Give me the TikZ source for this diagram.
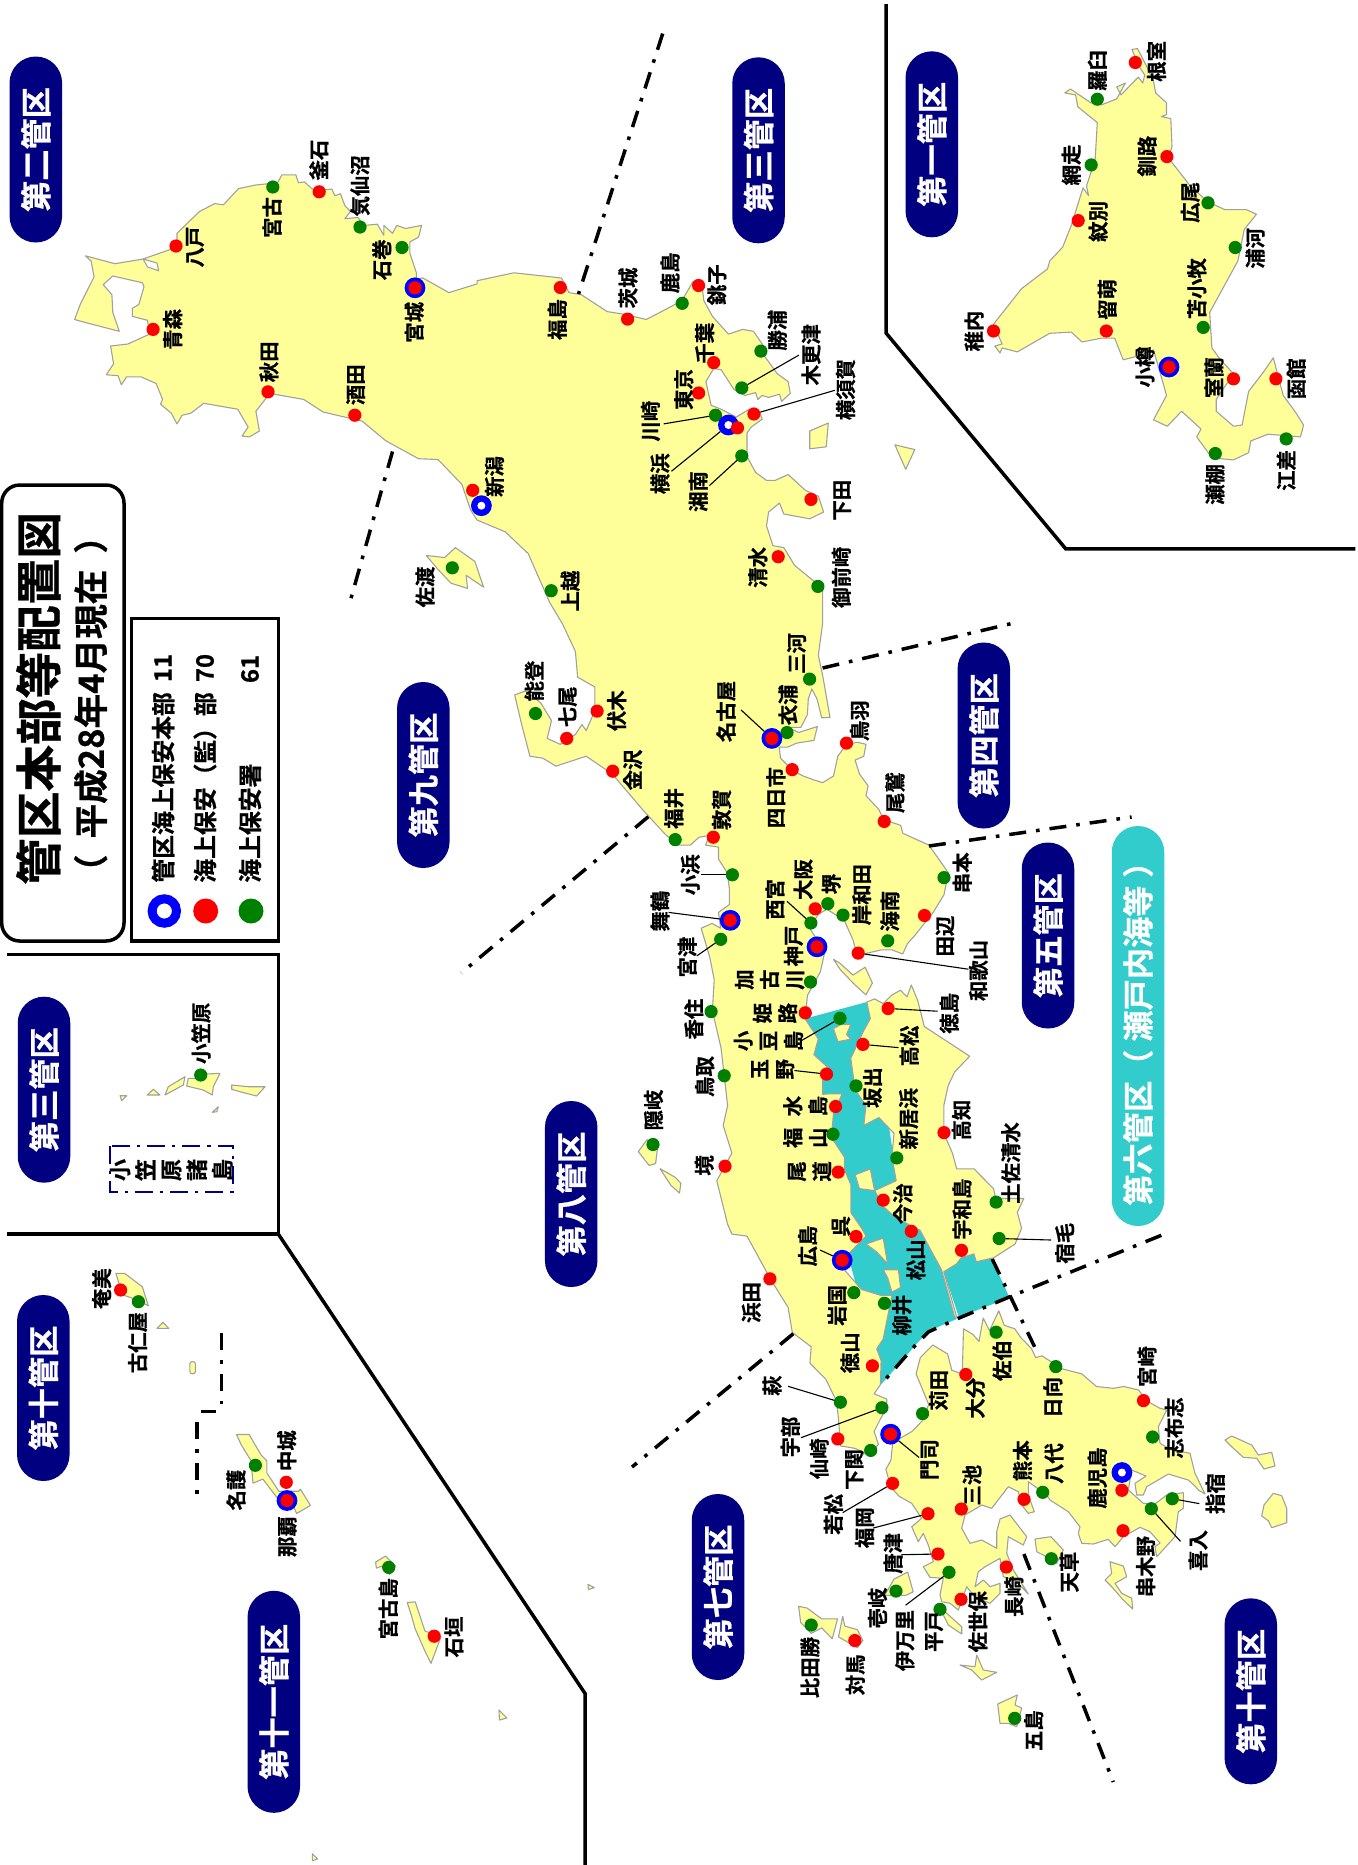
\documentclass[tikz,border=0pt]{standalone}
\usepackage{fontspec}
\newfontfamily\cjf{Noto Sans CJK JP}[BoldFont={Noto Sans CJK JP Bold},BoldFeatures={FakeBold=0.7}]
\definecolor{landc}{HTML}{FFFF99}
\definecolor{coast}{HTML}{A0A0A0}
\definecolor{seac}{HTML}{33CCCC}
\definecolor{navyc}{HTML}{000080}
\definecolor{greenc}{HTML}{008000}
\tikzset{
 land/.style={fill=landc,draw=coast,line width=.55pt,line join=round},
 hole/.style={fill=white,draw=coast,line width=.55pt,line join=round},
 sea/.style={fill=seac,draw=none},
 rd/.style={circle,fill=red,inner sep=0pt,outer sep=0pt,minimum size=6.6pt},
 gd/.style={circle,fill=greenc,inner sep=0pt,outer sep=0pt,minimum size=6.6pt},
 bd/.style={circle,fill=blue,inner sep=0pt,outer sep=0pt,minimum size=10.4pt},
 wd/.style={circle,fill=white,inner sep=0pt,outer sep=0pt,minimum size=4pt},
 lab/.style={rotate=90,inner sep=0pt,align=center,font=\cjf\bfseries\fontsize{10.2}{12.6}\selectfont},
 leader/.style={draw=black,line width=.55pt},
 border/.style={draw=black,line width=1.75pt,line join=miter},
 dashb/.style={draw=black,line width=1.75pt,dash pattern=on 8.5pt off 5pt on 1.8pt off 5pt},
 pill/.style={rotate=90,inner sep=0pt,rounded corners=13.1pt,text=white,font=\cjf\bfseries\fontsize{15.6}{18}\selectfont},
}
\newcommand{\RD}[3]{\node[rd] (#1) at (#2,#3) {};}
\newcommand{\GD}[3]{\node[gd] (#1) at (#2,#3) {};}
\newcommand{\RN}[3]{\node[bd] (#1) at (#2,#3) {};\node[rd] (#1r) at (#2,#3) {};}
\newcommand{\RH}[3]{\node[bd] (#1) at (#2,#3) {};\node[wd] (#1w) at (#2,#3) {};}
\newcommand{\LB}[4]{\node[lab] (#1) at (#2,#3) {#4};}
\newcommand{\LD}[3]{\coordinate (#1e) at (#2,#3);\draw[leader] (#1) -- (#1e);}
\newcommand{\PL}[7]{\node[pill,fill=#7,minimum width=#4*0.5pt,minimum height=#5*0.5pt] (#1) at (#2,#3) {#6};}
\begin{document}
\begin{tikzpicture}[x=0.5pt,y=-0.5pt]
\path[use as bounding box,fill=white] (0,0) rectangle (1358,1865);
% inland sea
\fill[sea] plot coordinates {(805.4,1018.6)(866.8,1002)(880,1050)(885,1100)(900,1200)(935,1250)(950.3,1300)(956.7,1319)(928.6,1331)(915.7,1344.8)(900.5,1362.6)(881.1,1384.4)(860,1300)(820,1150)} -- cycle;
\fill[sea] plot coordinates {(943.8,1271.7)(956.7,1263.8)(961,1257.8)(974,1253.9)(976.2,1261.8)(991.3,1257.8)(1009.5,1297.4)(1000,1301.3)(958.9,1317.1)} -- cycle;
% Honshu
\draw[land] plot coordinates {(85.4,255.8)(114.9,263.7)(143.1,259)(171.3,249.1)(177,246)(177,233.3)(199.5,211.5)(214.7,203.6)(223.4,204.8)(238.5,188.6)(255.9,185)(277.6,182.7)(281.9,174.8)(295.8,174.8)(298.4,182.7)(304.5,181.9)(312.3,189)(325.3,189.8)(331.8,189)(334.8,195.7)(340.5,193.7)(344.8,205.6)(350.4,211.5)(344.8,218.7)(357.8,217.5)(364.3,225.4)(377.3,224.2)(383.8,235.3)(383.8,225.4)(392.5,233.3)(396.8,225.4)(405.5,228.5)(421.6,225.4)(418.5,237.2)(409.8,242)(409.8,253)(416.4,272.8)(416.4,278.8)(422.9,278)(448.9,292.6)(477.1,283.9)(477.1,280.7)(513.9,272.8)(561.6,278)(569,292.6)(581.2,294.6)(607.2,311.6)(624.5,314.3)(646.2,319.5)(661.4,311.6)(678.7,302.5)(684.3,296.6)(693,281.5)(701.6,281.5)(703.8,300.5)(712.4,316.3)(728.4,334.1)(742.7,329.4)(753.5,331.3)(762.2,344)(764.3,355.9)(777.3,373.7)(788.1,381.6)(790.3,393.4)(781.6,401.3)(779.5,394.2)(768.6,397.4)(762.2,395.4)(757.8,399.4)(755.7,392.6)(744.9,395.4)(734,389.5)(721.1,369.7)(713.7,368.5)(705.9,381.6)(711.1,405.3)(721.1,409.2)(736.2,417.1)(749.2,409.2)(760,413.2)(762.2,419.1)(751.3,427)(747,433)(747,456.7)(755.7,472.5)(766.5,480.4)(775.1,480.4)(788.1,474.5)(805.4,490.3)(818.4,496.2)(823.6,512)(809.7,518.8)(783.8,514)(779.5,503)(768.6,512)(766.5,525.9)(773,545.7)(783.8,547.6)(794.6,565.4)(814,581.2)(822.7,589.1)(822.6,623.7)(818.3,655.4)(822.6,675.1)(830,717.4)(821.7,717.8)(817,698.9)(811.8,689)(808.3,698.9)(807.4,714.7)(800.9,727.3)(787.9,727.3)(798.7,732.5)(817.4,726.5)(813.9,740.4)(796.6,743.1)(787.9,747.1)(779.2,747.1)(780.5,758.2)(792.2,770)(803.1,776)(813.9,779.9)(822.6,782.7)(833.5,776)(837.8,756.2)(846.5,744.3)(857.3,742.3)(866,744.3)(863.8,756.2)(855.1,760.1)(859.5,774)(868.1,785.8)(866,795.7)(879,809.6)(883.3,819.4)(900.7,825.4)(902.8,833.3)(928.9,845.1)(948.4,872.8)(944,894.6)(933.2,912.4)(915.9,934.1)(907.2,944)(902.8,953.9)(892,949.9)(881.2,949.9)(863.8,953.9)(857.3,955.9)(853,940)(844.3,920.3)(826.9,909.2)(818.3,914.3)(809.6,928.2)(816.1,938.1)(825.6,948)(820.4,971.7)(807.4,995.4)(805.3,1019.1)(818.3,1038.9)(813.9,1054.7)(826.9,1066.6)(822.6,1080.4)(822.6,1094.3)(831.3,1093.7)(842.2,1093.7)(833.5,1113.5)(831.3,1137.2)(844.3,1157)(844.3,1168.9)(850.8,1184.7)(850.8,1212.4)(861.6,1228.2)(865.9,1236.1)(846.5,1255.9)(844.3,1269.7)(861.6,1289.5)(881.1,1295.4)(891.9,1295.4)(883.2,1338.9)(876.7,1348.8)(881.1,1360.6)(880.4,1384.7)(874.1,1393.7)(886.7,1399.1)(886.7,1408.1)(880.4,1418.9)(874.1,1431.5)(878.3,1444.1)(869.9,1455.6)(855.3,1448.4)(840.6,1445.9)(838.5,1418.9)(836.4,1400.9)(825.9,1379.3)(809.9,1363.1)(811.2,1346.8)(792.3,1332.4)(788.1,1307.3)(770.8,1279.6)(747,1236.1)(731.9,1234.1)(727.6,1224.2)(716.8,1180.7)(731.9,1153.1)(723.2,1125.4)(727.6,1105.6)(721.1,1048.3)(712.4,1010.7)(714.2,979.6)(709.9,957.8)(701.2,928.2)(712,923.4)(720.7,928.2)(718.5,912.4)(729.4,904.5)(729.4,888.6)(727.2,872.8)(718.5,859)(718.5,847.1)(705.5,845.1)(709.8,835.3)(699,837.2)(690.3,845.1)(677.3,845.1)(664.3,833.3)(642.6,809.6)(612.3,774)(586.2,756.2)(555.9,766.1)(542.9,758.2)(529.9,756.2)(521.2,722.6)(514.7,694.9)(525.5,690.9)(540.7,702.8)(551.5,720.6)(547.2,738.4)(560.2,744.3)(575.4,734.4)(581.9,724.6)(586.2,730.5)(594.9,710.7)(594.9,687)(577.6,677.1)(575.4,651.4)(562.4,623.7)(549.4,602)(547.3,597)(528.2,553.6)(505.2,531.8)(477,520)(470.6,510)(461.9,484.4)(438,459.5)(418.5,458.7)(386,440.9)(362.1,421.1)(323.1,412)(303.6,399.4)(274.1,394.2)(266.7,397.4)(255.9,411.2)(259.4,431)(249.4,436.9)(242,436.1)(248.1,427)(237.7,409.2)(203.8,403.3)(190.8,413.2)(182.2,415.2)(177,423.9)(171.3,413.2)(160.5,404.1)(162.6,399.4)(156.1,383.5)(141,376.8)(126.6,376.8)(121.4,384.7)(118,375.6)(106.3,374.8)(113.6,363.8)(110.6,346)(127.9,344)(149.6,334.1)(147.5,320.3)(132.3,316.3)(132.3,308.4)(138.8,304.5)(144,286.7)(142.3,282.7)(112.8,276)(103.2,284.7)(111.9,294.6)(112.8,312.4)(119.3,331.3)(84.6,322.3)(74.6,319.5)(80.2,304.5)(94.1,276.8)(91.1,261)} -- cycle;
\draw[hole] plot coordinates {(143.1,259)(157,263)(158.7,270.8)(147.5,266.9)} -- cycle;
% Shikoku
\draw[land] plot coordinates {(866.8,1002)(874.6,998.9)(883.2,1003.6)(891.9,994.9)(900.5,990.2)(907,996.9)(911.3,985)(917.8,1000.8)(924.3,1026.5)(939.4,1036.4)(969.7,1056.2)(954.6,1072)(948.1,1085.8)(943.8,1105.6)(943.8,1133.3)(952.4,1153.1)(956.7,1168.9)(974,1168.9)(993.5,1188.6)(995.7,1198.5)(1023.8,1198.5)(1017.3,1212.4)(1021.6,1228.2)(1015.1,1244)(993.5,1257.8)(976.2,1261.8)(974,1253.9)(961,1257.8)(956.7,1263.8)(943.8,1271.7)(956.7,1317.1)(954.6,1317)(941.5,1269.7)(920,1230.2)(896.2,1218.3)(883.2,1206.4)(874.6,1190.6)(896.2,1180.7)(891.9,1157)(894,1133.3)(878.9,1117.5)(863.8,1125.4)(865.9,1105.6)(855.1,1089.8)(850.8,1058.2)(863.8,1030.5)(870.3,1018.6)} -- cycle;
% Kyushu
\draw[land] plot coordinates {(893,1442.3)(911.9,1431.5)(922.4,1420.7)(928.7,1404.5)(916.1,1373.9)(920.3,1357.6)(932.9,1345)(947.6,1354)(951.8,1370.3)(962.3,1373.9)(963.5,1328.8)(972.7,1334.2)(979,1341.4)(983.2,1318)(989.5,1330.6)(998.8,1310.8)(1004.2,1325.2)(1014.7,1328.8)(1021,1337.8)(1031.5,1348.6)(1035.7,1357.6)(1042,1355.8)(1050.4,1361.3)(1060.9,1368.5)(1081.8,1373.9)(1096.5,1386.5)(1113.3,1388.3)(1123.8,1386.5)(1138.5,1390)(1146.9,1400.9)(1159.5,1408.1)(1166.7,1410)(1158.3,1426.7)(1160,1443.3)(1171.7,1450)(1190,1453.3)(1195,1473.3)(1205,1494)(1198.3,1490)(1195,1486)(1188.3,1480)(1168.3,1474)(1146.7,1486.7)(1143.3,1495)(1136.7,1495)(1135,1483.3)(1146,1476)(1131.7,1470)(1128.3,1490)(1143.3,1503.3)(1155,1504)(1166.7,1495)(1183.3,1492.7)(1183.3,1508.3)(1178.3,1511.7)(1175,1536.7)(1156.7,1556.7)(1155,1546.7)(1160,1543)(1150,1531.7)(1140,1527.3)(1123.3,1536.7)(1115,1546.7)(1108.3,1539.3)(1093.3,1544)(1081.7,1543.3)(1078.3,1533.3)(1080,1526.7)(1068.3,1511.7)(1050,1500)(1046.7,1495)(1028.3,1481.7)(1028.3,1495)(1034.3,1511.7)(1028.3,1513.3)(1021.7,1505)(1018.3,1491.7)(1008.3,1486.7)(991.7,1508.3)(981.7,1505)(965,1515)(961.7,1528.3)(970,1543.3)(981.7,1540)(996.7,1548.3)(996.7,1531.7)(1000,1519)(1010,1515)(1026.7,1536.7)(1023.3,1545)(1008.3,1536.7)(1006.7,1553.3)(1010,1561.7)(1013.3,1570)(1028.3,1594)(1015,1580)(1003.3,1576.7)(1000,1558.3)(985,1566.7)(978.3,1571.7)(975,1586.7)(983.3,1580)(990,1586.7)(1000,1583.3)(1000,1593.3)(990,1603.3)(975,1597)(966.7,1586.7)(958.3,1610)(950,1603.3)(941.7,1601.7)(940,1595)(943.3,1578.3)(930,1577.3)(923.3,1566.7)(933.3,1561.7)(928.3,1545)(923.3,1533.3)(918.3,1541.7)(911.7,1526.7)(921.7,1518.3)(911.7,1503.3)(899.3,1496.4)(890.9,1487.4)(885.9,1469.3)(890.9,1460.3)(892.2,1447.7)} -- cycle;
% Hokkaido
\draw[land] plot coordinates {(993.5,324.2)(1021.6,288.6)(1047.5,268.9)(1049.7,261)(1062.7,247.1)(1071.3,225.4)(1083,187.8)(1088.6,195.7)(1086.5,185.8)(1095.1,160.1)(1097.3,122.6)(1077.8,106.8)(1075.6,94.9)(1064.8,92.9)(1070.5,89)(1090.8,102.8)(1101.6,104.8)(1116.7,98.9)(1125.4,83)(1116.7,87)(1121,94.9)(1138.3,77.1)(1142.7,83)(1144.8,75.1)(1139.6,67.2)(1131.9,49.4)(1137.5,48.6)(1147,67.2)(1153.5,81.1)(1155.6,92.9)(1166.5,102.8)(1166.5,114.7)(1161.3,116.6)(1170.8,118.6)(1172,146.3)(1168.6,158.2)(1190.2,185.8)(1207.5,201.7)(1224.8,209.6)(1246.4,209.6)(1256.4,214.3)(1244.3,229.3)(1237.8,261)(1222.7,288.6)(1209.7,312.4)(1211.9,347.9)(1220.5,359.8)(1233.5,373.7)(1216.2,399.4)(1216.2,411.2)(1233.5,426.2)(1242.1,425)(1248.6,391.4)(1263.7,371.7)(1273.3,357.8)(1283.2,395.4)(1296.2,413.2)(1303.5,425)(1300.5,436.9)(1268.1,434.2)(1250.8,440.9)(1248.6,452.7)(1233.5,459.9)(1220.5,458.7)(1209.7,454.7)(1196.7,436.9)(1201,429)(1181.6,411.2)(1167.3,426.2)(1153.5,419.9)(1166.5,395.4)(1162.1,379.6)(1153.5,349.9)(1138.3,355.9)(1123.2,359.8)(1114.6,338.1)(1101.6,338.1)(1082.1,342)(1071.3,332.1)(1049.7,333.3)(1017.3,351.9)(1002.1,347.9)(1000,353)(994.8,346)(1002.1,344)} -- cycle;
% islands
\draw[land] plot coordinates {(809.7,431)(828.3,423)(826.2,446.8)(809.7,448.8)} -- cycle;
\draw[land] plot coordinates {(894.9,444.8)(914.8,449.6)(905.7,469.3)} -- cycle;
\draw[land] plot coordinates {(426.3,555.5)(444.6,557.5)(455.4,547.6)(474.9,561.5)(483.6,587.2)(466.2,575.3)(467.5,588.4)(451,583.2)(438,569.4)} -- cycle;
\draw[land] plot coordinates {(638.3,1151.6)(647,1139.7)(657.8,1145.6)(655.6,1163.5)(649.1,1165.4)} -- cycle;
\draw[land] plot coordinates {(660,1168.6)(675.2,1177.3)(680.8,1183.2)(679.5,1193.1)(670.8,1185.2)} -- cycle;
\draw[land] plot coordinates {(833.5,959.3)(840,963.3)(853,975.1)(865.1,967.2)(872.4,983)(865.9,994.9)(853,983)(840,969.2)} -- cycle;
\draw[land] plot coordinates {(840.9,1024.6)(850.8,1024.6)(846.5,1034.4)(850.8,1039.2)(837.8,1041.6)(833.5,1028.5)} -- cycle;
\draw[land] plot coordinates {(855.1,1174.8)(870.3,1168.9)(874.6,1190.6)(859.4,1188.6)} -- cycle;
\draw[land] plot coordinates {(865.9,1244)(883.2,1238.1)(887.6,1263.8)(876.7,1251.9)} -- cycle;
\draw[land] plot coordinates {(883.2,1269.7)(898.4,1269.7)(900.5,1287.5)(891.9,1292.2)(887.6,1277.6)} -- cycle;
\draw[land] plot coordinates {(945,1611.7)(961.7,1626.7)(961.7,1634)(948.3,1625)(943.3,1615)} -- cycle;
\draw[land] plot coordinates {(960,1665)(975,1666.7)(976.7,1655)(983.3,1670)(996.7,1672.3)(981.7,1680)(971.7,1670)} -- cycle;
\draw[land] plot coordinates {(997.7,1704)(1017.3,1695)(1015,1705)(1021.7,1708)(1016.7,1726.7)(1008.3,1723.3)(1000,1723.3)} -- cycle;
\draw[land] plot coordinates {(1035,1539)(1051,1536.7)(1063.3,1550)(1056.7,1563.3)(1043.3,1555)(1036.7,1551.7)} -- cycle;
\draw[land] plot coordinates {(1110,1561.7)(1123.3,1566)(1126.7,1576.7)(1115,1583.3)(1121.7,1593.3)(1131.7,1598.3)(1132.7,1609)(1123.3,1600)(1111.7,1586.7)(1105,1580)(1111.7,1573.3)} -- cycle;
\draw[land] plot coordinates {(893.9,1579.2)(907.7,1572)(913.2,1591.8)(905.6,1595.4)(884.6,1595.4)(890.9,1584.6)} -- cycle;
\draw[land] plot coordinates {(798.6,1606.3)(807,1608)(821.7,1618.9)(837.6,1618.9)(832.2,1638.7)(821.7,1627.9)(811.2,1633.3)(800.7,1622.5)} -- cycle;
\draw[land] plot coordinates {(842.7,1616.3)(844.8,1626.1)(857.4,1629.7)(862.8,1640.5)(857.4,1647.7)(838.5,1636.9)} -- cycle;
\draw[land] plot coordinates {(1225,1440)(1231.7,1436)(1251.7,1445)(1258.3,1455)(1271.7,1452.3)(1275,1466)(1264,1469)(1256.7,1458.3)(1243.3,1457.3)(1231.7,1446.7)} -- cycle;
\draw[land] plot coordinates {(1273.3,1493.3)(1281.7,1495.7)(1286.7,1508.3)(1286.7,1522.7)(1271.7,1527.7)(1268.3,1520.7)(1261.7,1516)(1264,1505)} -- cycle;
\draw[land] plot coordinates {(115.9,1273.3)(124.6,1273.3)(142.3,1286.7)(148.3,1305.7)(134.4,1298.9)(122.6,1294.8)} -- cycle;
\draw[land] plot coordinates {(157,1328.4)(162.9,1322.3)(168.8,1328.4)} -- cycle;
\draw[land,rounded corners=1.2pt] (189.8,1361.6) rectangle (195.4,1373.8);
\draw[land] plot coordinates {(236.5,1434.5)(249.1,1434.5)(261,1454.8)(266.9,1460.9)(266.9,1473)(278.8,1491.2)(298.5,1491.2)(300.5,1489.2)(310.4,1505.4)(296.6,1513.5)(290.6,1499.3)(276.8,1497.3)(262.9,1479.1)(253,1483.1)(251.1,1460.9)(241.2,1444.7)} -- cycle;
\draw[land] plot coordinates {(375.6,1562.1)(385.5,1556)(395.4,1566.1)(389.5,1574.3)(381.6,1566.1)(376.4,1568.2)} -- cycle;
\draw[land] plot coordinates {(407.3,1602.6)(415.2,1601.8)(425,1631)(440.9,1637)(431,1663.3)(425,1651.2)(415.2,1628.9)(411.2,1614.8)} -- cycle;
\draw[land] plot coordinates {(588,1584.4)(594.3,1587.6)(588.4,1589.6)} -- cycle;
\draw[land] plot coordinates {(499,1710)(506.9,1718)(499.4,1720)} -- cycle;
\draw[land] plot coordinates {(312.4,1853.7)(317.5,1859)(312.4,1860.6)} -- cycle;
\draw[land] plot coordinates {(188.3,1078.3)(196.7,1078.3)(206.7,1074)(220,1073.3)(213.3,1086.7)(212.3,1095)(203.3,1090)(186.7,1086)} -- cycle;
\draw[land] plot coordinates {(185,1076.7)(183.3,1085)(165,1095)(168.3,1086.7)} -- cycle;
\draw[land] plot coordinates {(147.3,1095)(153.3,1089.3)(160,1095)} -- cycle;
\draw[land] plot coordinates {(120,1095.7)(126.7,1095.7)(121.7,1100.7)} -- cycle;
\draw[land] plot coordinates {(231.7,1085)(248.3,1086.7)(265,1086.7)(256.7,1096)(240,1091.7)(231.7,1089.3)} -- cycle;
\draw[land] plot coordinates {(218.3,1106.7)(216.7,1111.7)(212.3,1112.3)} -- cycle;
% borders
\draw[border] (886,4) -- (886,333) -- (1065.7,548.8) -- (1355.4,548.8);
\draw[border] (7,954.3) -- (278.3,954.3) -- (278.3,1234) -- (7,1234);
\draw[border] (278.3,1234) -- (585.2,1693.7) -- (585.2,1865);
\draw[dashb] (662.7,33.6) -- (578.5,294);
\draw[dashb] (392.5,451.5) -- (349.1,605);
\draw[dashb] (822.6,668) -- (1018,622);
\draw[dashb] (928.9,846) -- (1131.6,817);
\draw[dashb] (648.3,816.7) -- (461.3,972.9);
\draw[dashb] (992.2,1259) -- (1010.8,1297.4) -- (1034.6,1346.8);
\draw[dashb] (1161.3,1235.3) -- (1013,1295.4) -- (956.7,1319) -- (928.6,1331.8) -- (915.7,1344.8) -- (881,1384.4);
\draw[dashb] (793.3,1333.7) -- (632,1467);
\draw[dashb] (1023.9,1554) -- (1113.3,1782);
\draw[dashb] (221.4,1333.3) -- (221.4,1404);
\draw[dashb] (215.5,1411.4) -- (200.9,1411.4);
\draw[dashb] (196.9,1422.4) -- (196.9,1495.3);
% title and legend
\draw[draw=black,line width=1.75pt,rounded corners=9pt] (1.7,485) rectangle (124,941);
\node[rotate=90,inner sep=0pt,font=\cjf\bfseries\fontsize{23.3}{26}\selectfont] (title) at (38.3,698.4) {管区本部等配置図};
\node[rotate=90,inner sep=0pt,font=\cjf\bfseries\fontsize{17.3}{20}\selectfont] (subtitle) at (90.7,704) {（\kern8pt 平成28年4月現在\kern8pt ）};
\draw[border] (131.7,618.3) rectangle (278.3,941);
\node[circle,draw=blue,line width=4.5pt,fill=white,inner sep=0pt,outer sep=0pt,minimum size=12.2pt] (lgA) at (164.3,911) {};
\node[circle,fill=red,inner sep=0pt,minimum size=12.5pt] (lgB) at (205.7,911) {};
\node[circle,fill=greenc,inner sep=0pt,minimum size=12.5pt] (lgC) at (251,911) {};
\tikzset{lgt/.style={rotate=90,inner sep=0pt,font=\cjf\bfseries\fontsize{11.9}{14}\selectfont}}
\node[lgt,anchor=west] (ltA) at (163,883) {管区海上保安本部};
\node[lgt,anchor=west] (ltB) at (205,883) {海上保安（監）部};
\node[lgt,anchor=west] (ltC) at (250,883) {海上保安署};
\node[lgt] (nA) at (163,668) {11};
\node[lgt] (nB) at (205,668) {70};
\node[lgt] (nC) at (250,669) {61};
% pills
\PL{p2}{35.8}{149.5}{186}{52.5}{第二管区}{navyc}
\PL{p3}{758.5}{150.3}{186}{52.5}{第三管区}{navyc}
\PL{p1}{931.8}{144.3}{186}{52.5}{第一管区}{navyc}
\PL{p9}{423.3}{775}{186}{52.5}{第九管区}{navyc}
\PL{p4}{983.8}{735.5}{186}{52.5}{第四管区}{navyc}
\PL{p8}{571.2}{1194}{186}{52.5}{第八管区}{navyc}
\PL{p5}{1048}{935.5}{186}{52.5}{第五管区}{navyc}
\PL{p6}{1138}{1026}{400}{52.5}{第六管区（\kern4pt 瀬戸内海等\kern4pt ）}{seac}
\PL{p7}{718}{1587}{186}{52.5}{第七管区}{navyc}
\PL{p10}{1250.8}{1691.3}{186}{52.5}{第十管区}{navyc}
\PL{p3b}{44}{1089.7}{186}{52.5}{第三管区}{navyc}
\PL{p10b}{43.3}{1388}{186}{52.5}{第十管区}{navyc}
\PL{p11}{273.8}{1701.8}{222}{52.5}{第十一管区}{navyc}
\draw[draw=navyc,line width=1pt,dash pattern=on 9pt off 3.5pt on 1.6pt off 3.5pt] (110,1146) rectangle (232.7,1191.7);
\node[lab,font=\cjf\bfseries\fontsize{11}{12.8}\selectfont] (ogn) at (171.3,1170) {小\\笠\\原\\諸\\島};
% dots
\GD{dMiyako}{272.8}{187}\RD{dKamaishi}{319.2}{191.8}\GD{dKesen}{360}{227}\GD{dIshino}{402}{247.5}\RN{dMiyagi}{415}{287.8}\RD{dHachi}{176}{246}\RD{dAomori}{153.1}{329.4}\RD{dAkita}{268}{391.8}\RD{dSakata}{354.8}{415.2}\RD{dFuku}{560.3}{287.5}\RD{dIbaraki}{627.6}{319.1}\RD{dNiigata}{472.7}{490.3}\RH{dNiiR}{481.4}{505.7}\GD{dSado}{452.3}{567.8}\GD{dJoetsu}{551.2}{590.7}
\GD{dKashima}{682.2}{303.3}\RD{dChoshi}{698.6}{285.5}\GD{dKatsu}{760.9}{351.1}\RD{dChiba}{713.7}{362.6}\GD{dKisa}{741.8}{387.9}\RD{dTokyo}{698.6}{393}\GD{dKawa}{715.5}{415.2}\RH{dYoko}{728.4}{425}\RD{dYokoR}{737.5}{427.8}\RD{dYosu}{753.9}{414}\GD{dShonan}{741.8}{455.9}\RD{dShimoda}{811}{499.4}\RD{dShimizu}{778.2}{556.7}\GD{dOmae}{817.9}{586.4}
\GD{dRausu}{1097.3}{99.2}\RD{dNemuro}{1135.3}{62.5}\GD{dAbashiri}{1091.2}{164.9}\RD{dKushiro}{1166.9}{156.6}\RD{dMonbetsu}{1078.2}{220.6}\GD{dHiroo}{1208}{202.8}\GD{dUrakawa}{1235.2}{247.5}\RD{dRumoi}{1106.3}{331}\RD{dWakka}{993.5}{331}\GD{dToma}{1203.2}{327.4}\RN{dOtaru}{1169}{367}\RD{dMuroran}{1233.5}{378.8}\RD{dHakodate}{1275.9}{378.8}\GD{dSetana}{1215.3}{453.5}\GD{dEsashi}{1286.2}{438.9}
\GD{dNoto}{535.5}{713.5}\RD{dNanao}{566.7}{738.4}\RD{dFushiki}{597.1}{711.1}\RD{dKanazawa}{612.7}{771.2}\GD{dFukui}{675.2}{839.6}\RD{dTsuruga}{713.3}{837.2}\GD{dMikawa}{809.6}{679.1}\GD{dKinu}{787}{732.5}\RN{dNagoya}{771.9}{738.4}\RD{dYokka}{792.2}{769.6}\RD{dToba}{846.5}{743.1}\RD{dOwase}{884.2}{821.4}\GD{dKushimoto}{944}{877.6}\RD{dTanabe}{924.5}{915.5}\GD{dKainan}{887.7}{940.8}\RD{dWaka}{858.2}{953.1}\GD{dKishi}{843}{915.1}\GD{dSakai}{827.8}{903.7}\RD{dOsaka}{815.2}{908.8}\GD{dNishi}{810.9}{923}\RN{dKobe}{817}{946.8}\GD{dKako}{810.5}{982}\RD{dHimeji}{805.3}{1012.8}\GD{dObama}{732.4}{874.8}\RN{dMaizuru}{730.2}{920.3}\GD{dMiyazu}{720.7}{939.3}\GD{dKasumi}{711.1}{1011.6}\GD{dTottori}{724.2}{1075.7}\GD{dOki}{653}{1144.5}\RD{dSakaiT}{725}{1166.2}\GD{dShodo}{840}{1018.3}\RD{dTokushima}{888.1}{1008.5}\RD{dTakamatsu}{862.9}{1044.4}\RD{dTamano}{826.5}{1074.1}\GD{dSakaide}{856}{1085.9}\RD{dMizu}{835.6}{1106.5}\GD{dFukuyama}{833}{1134.2}\RD{dOnomichi}{838.2}{1172.1}\GD{dNiihama}{896.8}{1157.9}\RD{dKochi}{944}{1132.6}
\RD{dImabari}{883.2}{1200.1}\RD{dKure}{856}{1236.5}\RD{dMatsuyama}{911.3}{1231.3}\RN{dHiroshima}{842.2}{1260.2}\RD{dUwa}{961.5}{1250.3}\GD{dTosa}{996.1}{1202.1}\GD{dSukumo}{999.1}{1238.5}\RD{dHamada}{769.9}{1278.8}\GD{dIwakuni}{853.8}{1292.6}\GD{dYanai}{884.5}{1303.3}\RD{dTokuyama}{872.4}{1365.8}\GD{dSaiki}{996.1}{1332.2}\RD{dOita}{965.8}{1374.5}\GD{dHyuga}{1055.8}{1366.6}\RD{dMiyazaki}{1143.5}{1400.6}\GD{dShibushi}{1152.6}{1437}\GD{dKanda}{922.6}{1413.6}\GD{dHagi}{840.4}{1402.2}\GD{dUbe}{881.9}{1407.7}\RD{dSenzaki}{837.8}{1438.9}\GD{dShimono}{870.7}{1450.4}\RN{dMoji}{890.6}{1434.2}\RH{dKagoR}{1121.9}{1472.5}\RD{dKago}{1121.9}{1490.3}
\RD{dWakamatsu}{892.6}{1483.4}\RD{dFukuoka}{928}{1513.7}\RD{dMiike}{961.3}{1509}\RD{dKumamoto}{1024}{1499.3}\GD{dYatsu}{1042.7}{1492.3}\RD{dKaratsu}{938}{1554}\GD{dImari}{949}{1572.3}\GD{dIki}{896}{1591.1}\RD{dSasebo}{961}{1599.3}\GD{dHirado}{940}{1609.3}\RD{dNagasaki}{1006.3}{1567}\GD{dAmakusa}{1051.3}{1558.7}\GD{dGoto}{1014.7}{1718.3}\GD{dHita}{811.2}{1625}\RD{dTsushima}{854.8}{1640.5}\RD{dKushiki}{1123}{1530.7}\GD{dKiire}{1151.3}{1508.7}\GD{dIbusuki}{1172.3}{1498.7}
\RD{dAmami}{120.6}{1290}\GD{dKoniya}{138.4}{1301.7}\GD{dNago}{255.4}{1465.3}\RD{dNakagusuku}{286.3}{1482.3}\RN{dNaha}{287}{1500.5}\GD{dMiyakoJ}{388.7}{1567.4}\RD{dIshigaki}{434.2}{1636.2}\GD{dOgasa}{200.7}{1075}
% leaders
\LD{dWaka}{968.4}{969.2}\LD{dTokushima}{937.5}{1011.2}\LD{dTakamatsu}{898.5}{1047.6}\LD{dTamano}{794.4}{1070.5}\LD{dShodo}{800.9}{1040.9}\LD{dObama}{701.2}{874.8}\LD{dMaizuru}{668.6}{912.4}\LD{dMiyazu}{696.8}{955.9}\LD{dNishi}{787}{901.3}\LD{dNagoya}{741}{709.9}\LD{dKisa}{798.9}{355.1}\LD{dYosu}{834.8}{390.3}\LD{dShonan}{709.4}{485.6}\LD{dYoko}{671.4}{471.3}\LD{dKawa}{663.6}{423.9}\LD{dSukumo}{1051}{1240}\LD{dHagi}{788.1}{1386.3}\LD{dUbe}{801}{1437.7}\LD{dMoji}{919.1}{1457.5}\LD{dWakamatsu}{842.7}{1512.6}\LD{dFukuoka}{873.3}{1528}\LD{dKaratsu}{901.4}{1554.7}\LD{dImari}{905.6}{1605.2}\LD{dKiire}{1180.5}{1541.4}\LD{dIbusuki}{1199.3}{1503.6}\LD{dHiroshima}{820}{1250}
% labels
\LB{l1}{318.8}{160}{釜石}\LB{l2}{360}{185.8}{気仙沼}\LB{l3}{272}{217.5}{宮古}\LB{l4}{195}{247}{八戸}\LB{l5}{381.7}{259.8}{石巻}\LB{l6}{414.2}{322.3}{宮城}\LB{l7}{172.6}{329.4}{青森}\LB{l8}{268.9}{361.8}{秋田}\LB{l9}{355.6}{384.7}{酒田}\LB{l10}{557.3}{319.5}{福島}\LB{l11}{628}{287.9}{茨城}\LB{l12}{670}{272.8}{鹿島}\LB{l13}{650.5}{421.1}{川崎}\LB{l14}{683.7}{389.5}{東京}\LB{l15}{660}{473.7}{横浜}\LB{l16}{494.4}{476.5}{新潟}\LB{l17}{425}{587}{佐渡}\LB{l18}{570.3}{591.1}{上越}
\LB{l19}{716.8}{284.7}{銚子}\LB{l20}{704.6}{343.2}{千葉}\LB{l21}{777.3}{330.2}{勝浦}\LB{l22}{811}{354.7}{木更津}\LB{l23}{845.6}{389.5}{横須賀}\LB{l24}{698.2}{491.5}{湘南}\LB{l25}{842.2}{500.2}{下田}\LB{l26}{757.8}{567.4}{清水}\LB{l27}{841.3}{577.3}{御前崎}
\LB{l28}{1156.5}{61.3}{根室}\LB{l29}{1097.3}{70.4}{羅臼}\LB{l30}{1071.3}{164.9}{網走}\LB{l31}{1147}{156.2}{釧路}\LB{l32}{1098.1}{221.4}{紋別}\LB{l33}{1190.2}{202.4}{広尾}\LB{l34}{1255.1}{248.3}{浦河}\LB{l35}{1196.7}{288.6}{苫小牧}\LB{l36}{1107.2}{299.3}{留萌}\LB{l37}{974}{331}{稚内}\LB{l38}{1144.8}{367}{小樽}\LB{l39}{1214}{377.6}{室蘭}\LB{l40}{1296.2}{378.8}{函館}\LB{l41}{1214.9}{484.4}{瀬棚}\LB{l42}{1286.2}{470.5}{江差}
\LB{l43}{534.2}{681}{能登}\LB{l44}{567.6}{706.8}{七尾}\LB{l45}{616.6}{710.7}{伏木}\LB{l46}{632.7}{770}{金沢}\LB{l47}{673.8}{808.4}{福井}\LB{l48}{721.6}{809.6}{敦賀}\LB{l49}{796.6}{653.4}{三河}\LB{l50}{787.9}{704.8}{衣浦}\LB{l51}{725.9}{711.5}{名古屋}\LB{l52}{775.8}{797.7}{四日市}\LB{l53}{859.5}{720.6}{鳥羽}\LB{l54}{895}{792.6}{尾鷲}\LB{l55}{962.3}{872.8}{串本}\LB{l56}{944.9}{936.1}{田辺}\LB{l57}{889.8}{911.2}{海南}\LB{l58}{861.6}{894.6}{岸和田}\LB{l59}{831.3}{883.9}{堺}\LB{l60}{803.1}{879.5}{大阪}\LB{l61}{774.9}{899.3}{西宮}\LB{l62}{793.5}{946}{神戸}
\LB{l63}{769.7}{979.6}{加\\古\\川}\LB{l64}{774.9}{1013.2}{姫\\路}\LB{l65}{768.4}{1040.9}{小\\豆\\島}\LB{l66}{772.7}{1069.3}{玉\\野}\LB{l67}{805.3}{1106.1}{水\\島}\LB{l68}{805.3}{1137.7}{福\\山}\LB{l69}{809.6}{1171.4}{尾\\道}
\LB{l70}{690.3}{874.8}{小浜}\LB{l71}{660}{911.2}{舞鶴}\LB{l72}{687.3}{957}{宮津}\LB{l73}{693.8}{1019.1}{香住}\LB{l74}{704.6}{1076.5}{鳥取}\LB{l75}{653.5}{1110}{隠岐}\LB{l76}{704.2}{1165.4}{境}\LB{l77}{949.2}{1013.2}{徳島}\LB{l78}{909.3}{1046}{高松}\LB{l79}{872.5}{1087.5}{坂出}\LB{l80}{908.5}{1118.8}{新居浜}\LB{l81}{961.4}{1120}{高知}
\LB{l82}{978.4}{970.4}{和歌山}\LB{l83}{902.7}{1203.7}{今治}\LB{l84}{840.9}{1226.2}{呉}\LB{l85}{807.6}{1246}{広島}\LB{l86}{915.7}{1259.8}{松山}\LB{l87}{961.9}{1209.2}{宇和島}\LB{l88}{1010.8}{1163}{土佐清水}\LB{l89}{1064.8}{1243.2}{宿毛}\LB{l90}{751.3}{1302.5}{浜田}\LB{l91}{837}{1305.3}{岩国}\LB{l92}{901.8}{1315.2}{柳井}\LB{l93}{849.9}{1352.7}{徳山}\LB{l94}{772.1}{1385.6}{萩}\LB{l95}{790.3}{1437}{宇部}\LB{l96}{819.2}{1458.7}{仙崎}\LB{l97}{854.3}{1469.4}{下関}\LB{l98}{938.6}{1390.3}{苅田}\LB{l99}{975.3}{1398.2}{大分}\LB{l100}{1002.1}{1360.6}{佐伯}\LB{l101}{1052.7}{1397.4}{日向}\LB{l102}{1147}{1366.6}{宮崎}\LB{l103}{1174.3}{1427.9}{志布志}\LB{l104}{929.5}{1459.5}{門司}\LB{l105}{971.9}{1485.2}{三池}\LB{l106}{1022.5}{1460.7}{熊本}\LB{l107}{1054}{1463.5}{八代}\LB{l108}{1097.3}{1478}{鹿児島}
\LB{l109}{833.4}{1514.4}{若松}\LB{l110}{864.5}{1527.7}{福岡}\LB{l111}{893}{1553.3}{唐津}\LB{l112}{877.5}{1608}{壱岐}\LB{l113}{904.8}{1640.5}{伊万里}\LB{l114}{934.1}{1631.5}{平戸}\LB{l115}{977.8}{1621.7}{佐世保}\LB{l116}{1013.9}{1596.5}{長崎}\LB{l117}{1069.2}{1572}{天草}\LB{l118}{1145.6}{1566.6}{串木野}\LB{l119}{1198}{1550.4}{喜入}\LB{l120}{1215.3}{1493.5}{指宿}\LB{l121}{1033.6}{1730.6}{五島}\LB{l122}{809.9}{1667.5}{比田勝}\LB{l123}{855.3}{1674.7}{対馬}
\LB{l124}{101.6}{1288.7}{奄美}\LB{l125}{137.6}{1342.6}{古仁屋}\LB{l126}{236}{1490}{名護}\LB{l127}{286.7}{1450.7}{中城}\LB{l128}{287.4}{1536.6}{那覇}\LB{l129}{388.3}{1608.7}{宮古島}\LB{l130}{453.9}{1637}{石垣}\LB{l131}{201}{1033.3}{小笠原}
\end{tikzpicture}
\end{document}
